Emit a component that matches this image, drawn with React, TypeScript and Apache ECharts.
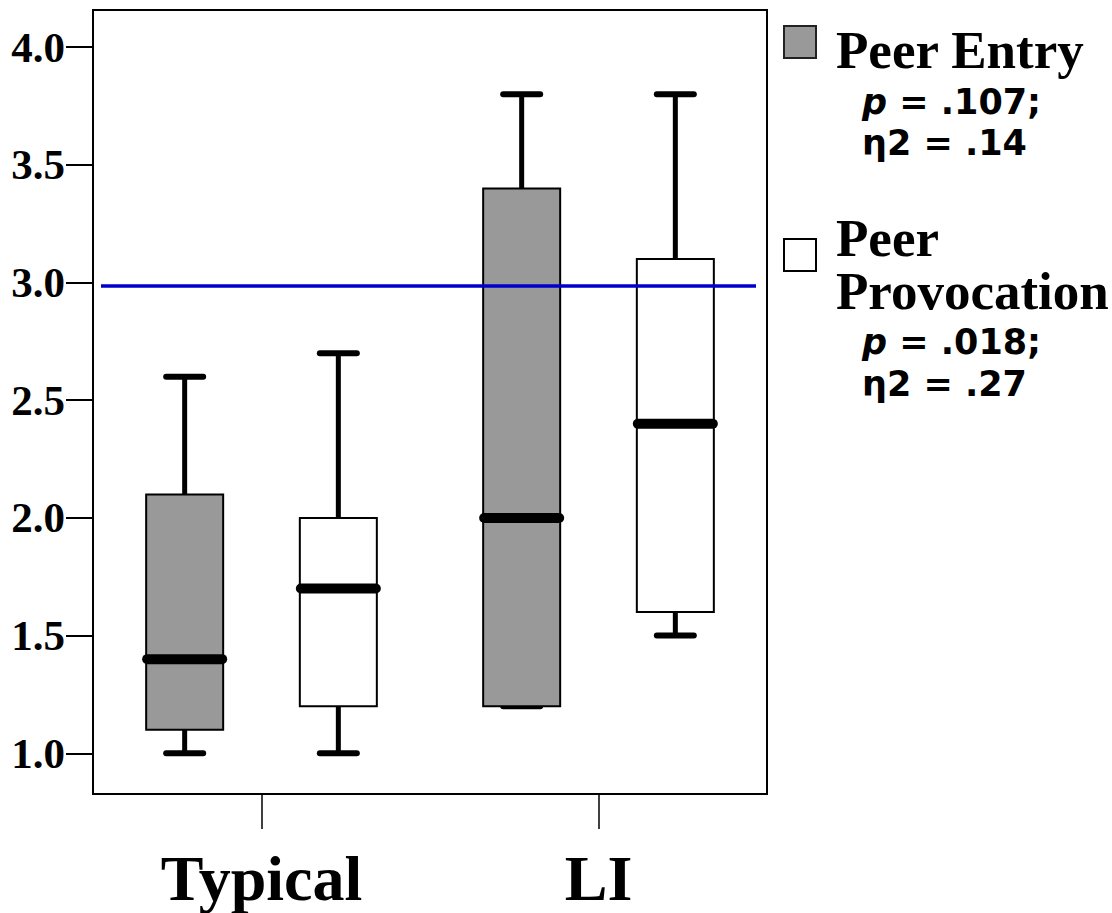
import React, { useEffect, useRef } from 'react';
import * as echarts from 'echarts';

const categories = ['Typical', 'LI'];
const groupNames = ['Peer Entry', 'Peer\nProvocation'];
// [category index, min, Q1, median, Q3, max]
const peerEntry = [
  [0, 1.0, 1.1, 1.4, 2.1, 2.6],
  [1, 1.2, 1.2, 2.0, 3.4, 3.8],
];
const peerProvocation = [
  [0, 1.0, 1.2, 1.7, 2.0, 2.7],
  [1, 1.5, 1.6, 2.4, 3.1, 3.8],
];
const yTicks = [1.0, 1.5, 2.0, 2.5, 3.0, 3.5, 4.0];
const referenceLine = [[0, 2.985]];
const pValues = ['.107', '.018'];
const etaValues = ['.14', '.27'];

const SERIF = '"Liberation Serif", "Times New Roman", serif';
const SANS = '"DejaVu Sans", Verdana, sans-serif';

function makeBoxRender(side: number, fill: string) {
  return (params: any, api: any) => {
    const cat = api.value(0);
    const bw = api.size([1, 0])[0];
    const cx = api.coord([cat, 0])[0] + side * bw * 0.228;
    const w = bw * 0.2285;
    const capW = 43;
    const yMin = api.coord([cat, api.value(1)])[1];
    const yQ1 = api.coord([cat, api.value(2)])[1];
    const yMed = api.coord([cat, api.value(3)])[1];
    const yQ3 = api.coord([cat, api.value(4)])[1];
    const yMax = api.coord([cat, api.value(5)])[1];
    const black = '#000';
    return {
      type: 'group',
      children: [
        { type: 'line', shape: { x1: cx, y1: yQ3, x2: cx, y2: yMax }, style: { stroke: black, lineWidth: 5 } },
        { type: 'line', shape: { x1: cx, y1: yQ1, x2: cx, y2: yMin }, style: { stroke: black, lineWidth: 5 } },
        { type: 'line', shape: { x1: cx - capW / 2 + 3, y1: yMax, x2: cx + capW / 2 - 3, y2: yMax }, style: { stroke: black, lineWidth: 6, lineCap: 'round' } },
        { type: 'line', shape: { x1: cx - capW / 2 + 3, y1: yMin, x2: cx + capW / 2 - 3, y2: yMin }, style: { stroke: black, lineWidth: 6, lineCap: 'round' } },
        { type: 'rect', shape: { x: cx - w / 2, y: yQ3, width: w, height: yQ1 - yQ3 }, style: { fill, stroke: black, lineWidth: 2 } },
        { type: 'line', shape: { x1: cx - w / 2 + 1, y1: yMed, x2: cx + w / 2 - 1, y2: yMed }, style: { stroke: black, lineWidth: 10, lineCap: 'round' } },
      ],
    };
  };
}

export default function App() {
  const ref = useRef<HTMLDivElement>(null);
  useEffect(() => {
    if (!ref.current) return;
    const chart = echarts.init(ref.current, null, { renderer: 'svg' });
    const subRich = {
      i: { fontFamily: SANS, fontWeight: 'bold', fontStyle: 'italic', fontSize: 35, fill: '#000' },
    };
    const subStyle = { fontFamily: SANS, fontWeight: 'bold', fontSize: 35, lineHeight: 35, fill: '#000', verticalAlign: 'middle' };
    const titleStyle = { fontFamily: SERIF, fontWeight: 'bold', fontSize: 53, lineHeight: 53, fill: '#000', verticalAlign: 'top' };
    const option: any = {
      animation: false,
      backgroundColor: '#fff',
      grid: { left: 93, right: 345, top: 10, bottom: 119, show: true, borderColor: '#000', borderWidth: 2, backgroundColor: 'transparent' },
      xAxis: {
        type: 'category',
        data: categories,
        boundaryGap: true,
        axisLine: { show: true, lineStyle: { color: '#000', width: 2 } },
        axisTick: { show: true, alignWithLabel: true, length: 35, lineStyle: { color: '#000', width: 1.5 } },
        axisLabel: { color: '#000', fontFamily: SERIF, fontWeight: 'bold', fontSize: 64, margin: 52 },
        splitLine: { show: false },
      },
      yAxis: {
        type: 'value',
        min: 0.827,
        max: 4.158,
        axisLine: { show: true, lineStyle: { color: '#000', width: 2 } },
        axisTick: { show: true, length: 27, customValues: yTicks, lineStyle: { color: '#000', width: 2 } },
        axisLabel: {
          customValues: yTicks,
          formatter: (v: number) => v.toFixed(1),
          color: '#000', fontFamily: SERIF, fontWeight: 'bold', fontSize: 43, margin: 28,
        },
        splitLine: { show: false },
      },
      series: [
        {
          type: 'custom', name: 'Peer Entry', data: peerEntry,
          encode: { x: 0, y: [1, 2, 3, 4, 5] },
          renderItem: makeBoxRender(-1, '#999999'),
        },
        {
          type: 'custom', name: 'Peer Provocation', data: peerProvocation,
          encode: { x: 0, y: [1, 2, 3, 4, 5] },
          renderItem: makeBoxRender(1, '#ffffff'),
        },
        {
          type: 'custom', name: 'ref', data: referenceLine,
          encode: { x: 0, y: 1 },
          z: 5,
          renderItem: (params: any, api: any) => {
            const y = api.coord([0, api.value(1)])[1];
            const cs = params.coordSys;
            return { type: 'line', shape: { x1: cs.x + 8, y1: y, x2: cs.x + cs.width - 11, y2: y }, style: { stroke: '#0000cc', lineWidth: 3.5 } };
          },
        },
      ],
      graphic: [
        { type: 'rect', shape: { x: 784, y: 26, width: 32, height: 32 }, style: { fill: '#999999', stroke: '#222', lineWidth: 2 } },
        { type: 'text', x: 836, y: 23.5, style: { ...titleStyle, text: groupNames[0] } },
        { type: 'text', x: 862, y: 102, style: { ...subStyle, text: `{i|p} = ${pValues[0]};`, rich: subRich } },
        { type: 'text', x: 862, y: 143, style: { ...subStyle, text: `η2 = ${etaValues[0]}` } },
        { type: 'rect', shape: { x: 784, y: 239, width: 32, height: 32 }, style: { fill: '#ffffff', stroke: '#000', lineWidth: 2 } },
        { type: 'text', x: 836, y: 211.5, style: { ...titleStyle, text: groupNames[1] } },
        { type: 'text', x: 862, y: 342, style: { ...subStyle, text: `{i|p} = ${pValues[1]};`, rich: subRich } },
        { type: 'text', x: 862, y: 384, style: { ...subStyle, text: `η2 = ${etaValues[1]}` } },
      ],
    };
    chart.setOption(option);
    return () => chart.dispose();
  }, []);
  return <div ref={ref} style={{ position: 'fixed', left: 0, top: 0, width: 1112, height: 913 }} />;
}
